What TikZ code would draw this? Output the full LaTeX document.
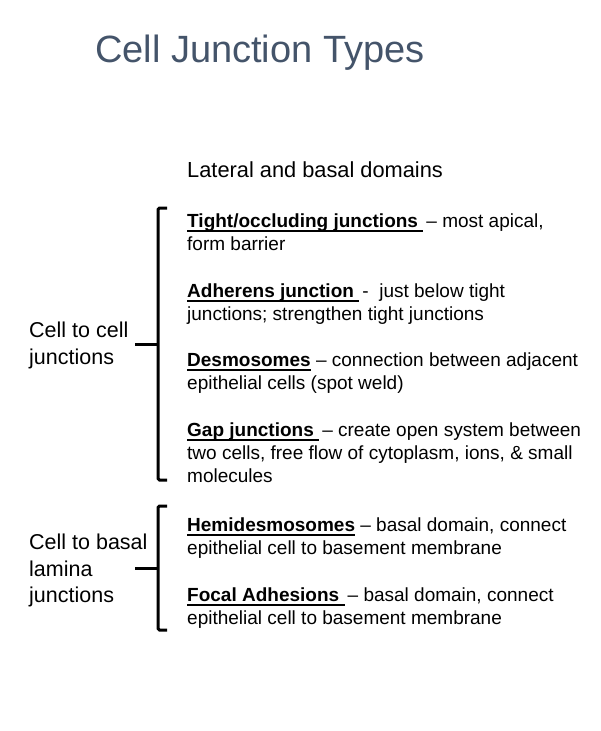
\documentclass[tikz,border=0pt]{standalone}
\usepackage{fontspec}
\setmainfont{Liberation Sans}
\usetikzlibrary{positioning}
\definecolor{titleblue}{HTML}{44546A}
\newcommand{\jterm}[1]{\setbox0\hbox{\textbf{#1}}\rlap{\rule[-5pt]{\wd0}{1.8pt}}\box0\relax}
\tikzset{
  txt/.style={anchor=base west, inner sep=0pt, font=\fontsize{19}{23}\selectfont},
  side/.style={anchor=base west, inner sep=0pt, font=\fontsize{21.5}{26}\selectfont},
  brace/.style={line width=3pt, rounded corners=1.5pt}
}

\begin{document}
\begin{tikzpicture}[x=1pt, y=-1pt]
        \useasboundingbox (0,0) rectangle (601,731);
        % Title
        \node[anchor=base west, inner sep=0pt, text=titleblue, font=\fontsize{38}{44}\selectfont] (title) at (95,62) {Cell Junction Types};
        \node[side, font=\fontsize{21.8}{26}\selectfont] (domains) at (187,177) {Lateral and basal domains};
        % Cell to cell
        \node[txt] (tighta) at (187,227) {\jterm{Tight/occluding junctions\ }\,-- most apical,};
        \node[txt] (tightb) at (187,250) {form barrier};
        \node[txt] (adha) at (187,297) {\jterm{Adherens junction\ }\,-\ \ just below tight};
        \node[txt] (adhb) at (187,320) {junctions; strengthen tight junctions};
        \node[txt] (desa) at (187,366) {\jterm{Desmosomes} -- connection between adjacent};
        \node[txt] (desb) at (187,389) {epithelial cells (spot weld)};
        \node[txt] (gapa) at (187,436) {\jterm{Gap junctions\ }\,-- create open system between};
        \node[txt] (gapb) at (187,459) {two cells, free flow of cytoplasm, ions, \& small};
        \node[txt] (gapc) at (187,482) {molecules};
        % Cell to basal lamina
        \node[txt] (hema) at (187,531) {\jterm{Hemidesmosomes} -- basal domain, connect};
        \node[txt] (hemb) at (187,554) {epithelial cell to basement membrane};
        \node[txt] (foca) at (187,601) {\jterm{Focal Adhesions\ }\,-- basal domain, connect};
        \node[txt] (focb) at (187,624) {epithelial cell to basement membrane};
        % Labels left of braces
        \node[side] (cca) at (29,337) {Cell to cell};
        \node[side] (ccb) at (29,364) {junctions};
        \node[side] (cba) at (29,549) {Cell to basal};
        \node[side] (cbb) at (29,576) {lamina};
        \node[side] (cbc) at (29,602) {junctions};
        % Braces
        \draw[brace] (167,208) -- (158,208) -- (158,480) -- (167,480);
        \draw[brace] (135,344) -- (158,344);
        \draw[brace] (167,506) -- (158,506) -- (158,630) -- (167,630);
        \draw[brace] (135,568) -- (158,568);
\end{tikzpicture}
\end{document}
